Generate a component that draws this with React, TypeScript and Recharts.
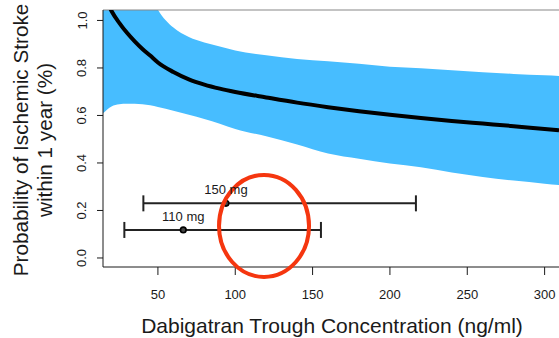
import {
  ComposedChart, Area, Line, Scatter, ErrorBar, XAxis, YAxis, ReferenceLine, LabelList,
} from 'recharts';

// fitted risk curve and its confidence band, by trough concentration
const conc = [14.5, 20, 25, 30, 35, 40, 45, 50, 60, 70, 80, 90, 100, 120, 140, 160, 180, 200, 220, 240, 260, 280, 300, 309.3];
const fitted = [1.12, 1.04, 0.99, 0.948, 0.912, 0.88, 0.852, 0.823, 0.783, 0.752, 0.73, 0.713, 0.699, 0.676, 0.654, 0.635, 0.618, 0.603, 0.589, 0.577, 0.566, 0.555, 0.543, 0.538];
const bandLow = [0.609, 0.638, 0.647, 0.649, 0.649, 0.647, 0.643, 0.636, 0.62, 0.603, 0.585, 0.565, 0.543, 0.512, 0.478, 0.44, 0.418, 0.398, 0.382, 0.36, 0.341, 0.326, 0.313, 0.307];
const bandHigh = [1.6, 1.5, 1.42, 1.34, 1.26, 1.18, 1.11, 1.045, 0.97, 0.93, 0.907, 0.89, 0.873, 0.853, 0.838, 0.828, 0.818, 0.805, 0.799, 0.79, 0.782, 0.775, 0.769, 0.766];

// dose groups: median trough level with range
const doses = ['110 mg', '150 mg'];
const doseMedian = [66.4, 94];
const doseMin = [28.3, 40.6];
const doseMax = [155.4, 216.8];
const doseRow = [0.118, 0.23];

// circled region
const markX = [118.6];
const markY = [0.135];

const xTicks = [50, 100, 150, 200, 250, 300];
const yTicks = [0, 0.2, 0.4, 0.6, 0.8, 1.0];
const X_DOMAIN: [number, number] = [14.5, 309.3];
const Y_DOMAIN: [number, number] = [-0.038, 1.044];

const FONT = '"Liberation Sans", Arial, sans-serif';
const INK = '#1a1a1a';
const BLUE = '#47bdff';

const curveData = conc.map((x, i) => ({ x, fit: fitted[i], band: [bandLow[i], bandHigh[i]] }));
const doseData = doses.map((name, i) => ({
  x: doseMedian[i],
  y: doseRow[i],
  name,
  err: [doseMedian[i] - doseMin[i], doseMax[i] - doseMedian[i]],
}));
const markData = markX.map((x, i) => ({ x, y: markY[i] }));

function YTick(props: any) {
  const { x, y, payload } = props;
  return (
    <text
      x={x} y={y} dy={-8.5}
      transform={`rotate(-90 ${x} ${y})`}
      textAnchor="middle" fontSize={13} fontFamily={FONT} fill={INK}
    >
      {payload.value.toFixed(1)}
    </text>
  );
}

function YTitle(props: any) {
  const { viewBox } = props;
  const cy = viewBox.y + viewBox.height / 2 + 1.5;
  const lines = ['Probability of Ischemic Stroke', 'within 1 year (%)'];
  return (
    <g>
      {lines.map((t, i) => {
        const x = 28 + i * 24;
        return (
          <text key={t} x={x} y={cy} transform={`rotate(-90 ${x} ${cy})`}
            textAnchor="middle" fontSize={20.7} fontFamily={FONT} fill={INK}>
            {t}
          </text>
        );
      })}
    </g>
  );
}

function XTitle(props: any) {
  const { viewBox } = props;
  return (
    <text x={viewBox.x + viewBox.width / 2 + 1} y={viewBox.y + 66}
      textAnchor="middle" fontSize={21} fontFamily={FONT} fill={INK}>
      Dabigatran Trough Concentration (ng/ml)
    </text>
  );
}

function DoseLabel(props: any) {
  const { x, y, width, height, value } = props;
  return (
    <text x={x + width / 2} y={y + height / 2 - 9} textAnchor="middle"
      fontSize={13} fontFamily={FONT} fill={INK}>
      {value}
    </text>
  );
}

const dot = (p: any) => (
  <circle cx={p.cx} cy={p.cy} r={2.8} fill="#444" stroke="#000" strokeWidth={1.6} />
);

const ring = (p: any) => (
  <ellipse cx={p.cx} cy={p.cy} rx={45} ry={51} fill="none" stroke="#f5360f" strokeWidth={4} />
);

export default function App() {
  return (
    <div style={{ position: 'absolute', left: 0, top: 0, width: 559, height: 338, overflow: 'hidden', background: '#fff' }}>
      <ComposedChart width={559} height={338} data={curveData} margin={{ top: 10, right: 0, bottom: 0, left: 0 }}>
        <XAxis
          type="number" dataKey="x" domain={X_DOMAIN} ticks={xTicks} allowDataOverflow
          height={71} tickSize={8} tickMargin={15}
          stroke={INK} tick={{ fontSize: 13, fontFamily: FONT, fill: INK }}
          label={<XTitle />}
        />
        <YAxis
          type="number" domain={Y_DOMAIN} ticks={yTicks} allowDataOverflow
          width={103} tickSize={6} stroke={INK} tick={<YTick />}
          label={<YTitle />}
        />
        {/* unclipped axes for the highlight ring, same scales */}
        <XAxis xAxisId="ring" type="number" dataKey="x" domain={X_DOMAIN} hide />
        <YAxis yAxisId="ring" type="number" domain={Y_DOMAIN} hide />
        <ReferenceLine y={Y_DOMAIN[1]} stroke="#888" strokeWidth={1.2} />
        <Area
          dataKey="band" type="monotone" fill={BLUE} fillOpacity={1} stroke="none"
          isAnimationActive={false}
        />
        <Line
          dataKey="fit" type="monotone" stroke="#000" strokeWidth={4} dot={false}
          isAnimationActive={false}
        />
        <Scatter data={doseData} dataKey="y" shape={dot} isAnimationActive={false}>
          <ErrorBar dataKey="err" direction="x" width={8} stroke="#222" strokeWidth={2} />
          <LabelList dataKey="name" content={<DoseLabel />} />
        </Scatter>
        <Scatter
          data={markData} dataKey="y" xAxisId="ring" yAxisId="ring" shape={ring}
          isAnimationActive={false}
        />
      </ComposedChart>
    </div>
  );
}
